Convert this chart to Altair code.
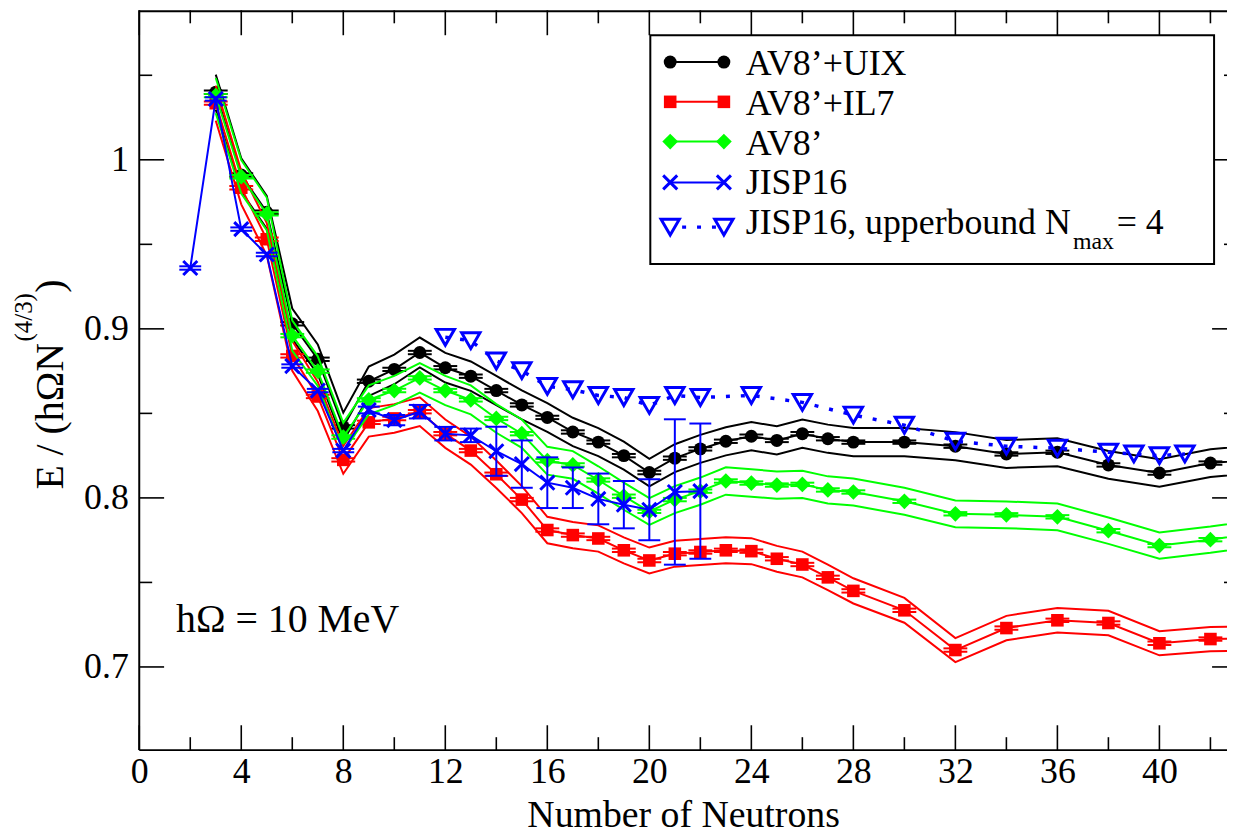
import altair as alt
import pandas as pd

FONT = "Liberation Serif"

# ---------------- data ----------------
N_main = [3, 4, 5, 6, 7, 8, 9, 10, 11, 12, 13, 14, 15, 16, 17, 18, 19, 20,
          21, 22, 23, 24, 25, 26, 27, 28, 30, 32, 34, 36, 38, 40, 42, 44]
av8_uix = [1.040, 0.991, 0.969, 0.903, 0.882, 0.842, 0.869, 0.876, 0.886, 0.877,
           0.872, 0.8635, 0.855, 0.8476, 0.839, 0.833, 0.825, 0.815, 0.8235, 0.829,
           0.8335, 0.8365, 0.834, 0.838, 0.835, 0.833, 0.833, 0.8306, 0.826, 0.827,
           0.8195, 0.8147, 0.8206, 0.8232]
av8_il7 = [1.0335, 0.9835, 0.953, 0.884, 0.860, 0.8225, 0.8447, 0.847, 0.851, 0.838,
           0.828, 0.814, 0.799, 0.781, 0.778, 0.776, 0.769, 0.763, 0.767, 0.768,
           0.769, 0.7685, 0.764, 0.7606, 0.753, 0.745, 0.7335, 0.710, 0.723, 0.7276,
           0.726, 0.714, 0.7165, 0.717]
av8 = [1.038, 0.990, 0.968, 0.896, 0.875, 0.836, 0.858, 0.8635, 0.871, 0.8635,
       0.858, 0.847, 0.838, 0.822, 0.8195, 0.8106, 0.801, 0.792, 0.799, 0.804,
       0.810, 0.8088, 0.8076, 0.808, 0.8047, 0.8035, 0.798, 0.7906, 0.790, 0.7888,
       0.7806, 0.7718, 0.7753, 0.7795]
fit_err = 0.001      # tiny error bars on the AV8' based results
band_rel = 0.01      # +/- 1 % band drawn around the AV8' based results

N_jisp = [2, 3, 4, 5, 6, 7, 8, 9, 10, 11, 12, 13, 14, 15, 16, 17, 18, 19, 20, 21, 22]
jisp16 = [0.936, 1.036, 0.959, 0.944, 0.878, 0.8635, 0.828, 0.852, 0.846, 0.851,
          0.838, 0.837, 0.8276, 0.820, 0.809, 0.806, 0.7994, 0.796, 0.793, 0.8035, 0.804]
jisp16_err = [0.001, 0.001, 0.001, 0.001, 0.001, 0.001, 0.001, 0.002, 0.003, 0.004,
              0.004, 0.004, 0.0145, 0.014, 0.015, 0.012, 0.015, 0.014, 0.018, 0.043, 0.040]

N_ub = [12, 13, 14, 15, 16, 17, 18, 19, 20, 21, 22, 24, 26, 28, 30, 32, 34, 36, 38, 39, 40, 41]
jisp16_ub = [0.895, 0.893, 0.881, 0.8753, 0.866, 0.864, 0.8606, 0.8594, 0.8547, 0.8606,
             0.8594, 0.8606, 0.8565, 0.849, 0.843, 0.8335, 0.8306, 0.8294, 0.827, 0.826,
             0.825, 0.826]

x_major = [0, 4, 8, 12, 16, 20, 24, 28, 32, 36, 40]
x_minor = [2, 6, 10, 14, 18, 22, 26, 30, 34, 38, 42]
y_major = [0.7, 0.8, 0.9, 1.0]
y_minor = [0.75, 0.85, 0.95, 1.05]

# ---------------- layout ----------------
W, H = 1094, 744
xs = alt.Scale(domain=[0, 42.65], nice=False, zero=False)
ys = alt.Scale(domain=[0.6508, 1.0884], nice=False, zero=False)
one = pd.DataFrame({"k": [0]})

AX_X = alt.Axis(values=x_major, title="Number of Neutrons", tickSize=0, domain=False,
                grid=False, labelFlush=False, labelPadding=5, labelFontSize=36,
                labelFont=FONT, titleFont=FONT, labelColor="black", titleColor="black",
                titleFontWeight="normal", titleFontSize=38, titleY=77,
                titleBaseline="alphabetic")
AX_Y = alt.Axis(values=y_major, format="~g", title=None, tickSize=0, domain=False,
                grid=False, labelPadding=11, labelFontSize=36, labelFont=FONT,
                labelColor="black")


def X(f="N"):
    return alt.X(f"{f}:Q", scale=xs, axis=AX_X)


def Y(f="E"):
    return alt.Y(f"{f}:Q", scale=ys, axis=AX_Y)


layers = []

# frame (left, top, bottom) and inward ticks
fr = dict(color="black", strokeWidth=2)
layers += [
    alt.Chart(one).mark_rule(**fr).encode(x=alt.value(0), y=alt.value(0), y2=alt.value(H)),
    alt.Chart(one).mark_rule(**fr).encode(x=alt.value(0), x2=alt.value(W), y=alt.value(1)),
    alt.Chart(one).mark_rule(**fr).encode(x=alt.value(0), x2=alt.value(W), y=alt.value(H)),
]
tk = dict(color="black", strokeWidth=1.6)
for vals, ln in ((x_major, 25), (x_minor, 13)):
    d = pd.DataFrame({"t": vals})
    layers.append(alt.Chart(d).mark_rule(**tk).encode(x=X("t"), y=alt.value(H), y2=alt.value(H - ln)))
    layers.append(alt.Chart(d).mark_rule(**tk).encode(x=X("t"), y=alt.value(0), y2=alt.value(ln)))
RIGHT = W + 10  # true right frame lies just outside the picture
for vals, ln in ((y_major, 25), (y_minor, 13)):
    d = pd.DataFrame({"t": vals})
    layers.append(alt.Chart(d).mark_rule(**tk).encode(y=Y("t"), x=alt.value(0), x2=alt.value(ln)))
    layers.append(alt.Chart(d).mark_rule(**tk).encode(y=Y("t"), x=alt.value(RIGHT - ln), x2=alt.value(W)))

# AV8' based series
series = [
    ("AV8’+UIX", av8_uix, "#000000", "circle", 169),
    ("AV8’+IL7", av8_il7, "#ff0000", "square", 160),
    ("AV8’", av8, "#00ff00", "diamond", 250),
]
for name, vals, col, shp, sz in series:
    d = pd.DataFrame({"N": N_main, "E": vals})
    d["hi"] = d["E"] * (1 + band_rel)
    d["lo"] = d["E"] * (1 - band_rel)
    d["ehi"] = d["E"] + fit_err
    d["elo"] = d["E"] - fit_err
    base = alt.Chart(d)
    layers += [
        base.mark_line(color=col, strokeWidth=2, clip=True).encode(x=X(), y=Y("hi")),
        base.mark_line(color=col, strokeWidth=2, clip=True).encode(x=X(), y=Y("lo")),
        base.mark_line(color=col, strokeWidth=2, clip=True).encode(x=X(), y=Y("E")),
        base.mark_tick(orient="horizontal", size=24, thickness=2, color=col, opacity=1, clip=True).encode(x=X(), y=Y("ehi")),
        base.mark_tick(orient="horizontal", size=24, thickness=2, color=col, opacity=1, clip=True).encode(x=X(), y=Y("elo")),
        base.mark_point(shape=shp, size=sz, filled=True, color=col, opacity=1, clip=True).encode(x=X(), y=Y("E")),
    ]

# JISP16
XSHAPE = "M-1,-1L1,1M-1,1L1,-1"
dj = pd.DataFrame({"N": N_jisp, "E": jisp16, "err": jisp16_err})
dj["hi"] = dj["E"] + dj["err"]
dj["lo"] = dj["E"] - dj["err"]
bj = alt.Chart(dj)
BLUE = "#0000ff"
layers += [
    bj.mark_line(color=BLUE, strokeWidth=2).encode(x=X(), y=Y("E")),
    bj.mark_rule(color=BLUE, strokeWidth=2).encode(x=X(), y=Y("lo"), y2="hi:Q"),
    bj.mark_tick(orient="horizontal", size=22, thickness=2, color=BLUE, opacity=1).encode(x=X(), y=Y("hi")),
    bj.mark_tick(orient="horizontal", size=22, thickness=2, color=BLUE, opacity=1).encode(x=X(), y=Y("lo")),
    bj.mark_point(shape=XSHAPE, size=200, filled=False, color=BLUE, strokeWidth=3, opacity=1).encode(x=X(), y=Y("E")),
]

# JISP16 upper bound
du = pd.DataFrame({"N": N_ub, "E": jisp16_ub})
bu = alt.Chart(du)
layers += [
    bu.mark_line(color=BLUE, strokeWidth=3.5, strokeDash=[4, 11], clip=True).encode(x=X(), y=Y("E")),
    bu.mark_point(shape="triangle-down", size=340, filled=False, color=BLUE, strokeWidth=3, opacity=1, clip=True).encode(x=X(), y=Y("E")),
]

# ---------------- legend ----------------
layers.append(alt.Chart(one).mark_rect(fill="white", stroke="black", strokeWidth=2).encode(
    x=alt.value(514), x2=alt.value(1081), y=alt.value(25), y2=alt.value(255)))
LEG_FS = 36
leg_rows = [
    ("AV8’+UIX", "#000000", "circle", 169, True, 52, 65),
    ("AV8’+IL7", "#ff0000", "square", 160, True, 92, 105),
    ("AV8’", "#00ff00", "diamond", 250, True, 132, 145),
    ("JISP16", BLUE, XSHAPE, 200, False, 173, 185),
    ("JISP16, upperbound N", BLUE, "triangle-down", 340, False, 218, 225),
]
LX1, LX2, TX = 534, 588, 610
for i, (txt, col, shp, sz, filled, ym, yb) in enumerate(leg_rows):
    if i < 4:
        layers.append(alt.Chart(one).mark_rule(color=col, strokeWidth=2).encode(
            x=alt.value(LX1), x2=alt.value(LX2), y=alt.value(ym)))
    else:
        layers.append(alt.Chart(one).mark_rule(color=col, strokeWidth=3.5, strokeDash=[4, 11]).encode(
            x=alt.value(LX1 + 12), x2=alt.value(LX2 - 8), y=alt.value(ym)))
    for lx in (LX1, LX2):
        pk = dict(shape=shp, size=sz, filled=filled, color=col, opacity=1)
        if not filled:
            pk["strokeWidth"] = 3
        layers.append(alt.Chart(one).mark_point(**pk).encode(x=alt.value(lx), y=alt.value(ym)))
    layers.append(alt.Chart(one).mark_text(align="left", baseline="alphabetic", font=FONT, fontSize=LEG_FS,
                                           color="black").encode(
        x=alt.value(TX), y=alt.value(yb), text=alt.value(txt)))
layers.append(alt.Chart(one).mark_text(align="left", baseline="alphabetic", font=FONT, fontSize=24,
                                       color="black").encode(
    x=alt.value(939), y=alt.value(240), text=alt.value("max")))
layers.append(alt.Chart(one).mark_text(align="left", baseline="alphabetic", font=FONT, fontSize=LEG_FS,
                                       color="black").encode(
    x=alt.value(983), y=alt.value(225), text=alt.value("= 4")))

# annotation
layers.append(alt.Chart(one).mark_text(align="left", baseline="alphabetic", font=FONT, fontSize=40,
                                       color="black").encode(
    x=alt.value(37), y=alt.value(625), text=alt.value("hΩ = 10 MeV")))

# y-axis title with superscript
ytk = dict(baseline="alphabetic", align="left", angle=270, font=FONT, color="black")
layers += [
    alt.Chart(one).mark_text(fontSize=40, **ytk).encode(x=alt.value(-77), y=alt.value(482), text=alt.value("E / (hΩN")),
    alt.Chart(one).mark_text(fontSize=25, **ytk).encode(x=alt.value(-108), y=alt.value(333), text=alt.value("(4/3)")),
    alt.Chart(one).mark_text(fontSize=40, **ytk).encode(x=alt.value(-77), y=alt.value(284), text=alt.value(")")),
]

chart = alt.layer(*layers).properties(
    width=W, height=H,
    padding={"left": 132, "top": 0, "right": 0, "bottom": 86},
    autosize=alt.AutoSizeParams(type="none"),
).configure_view(stroke=None).configure_axis(
    labelFont=FONT, titleFont=FONT, labelColor="black", titleColor="black",
    titleFontWeight="normal",
)

chart.save("out.html", embed_options={"renderer": "svg", "actions": False})
